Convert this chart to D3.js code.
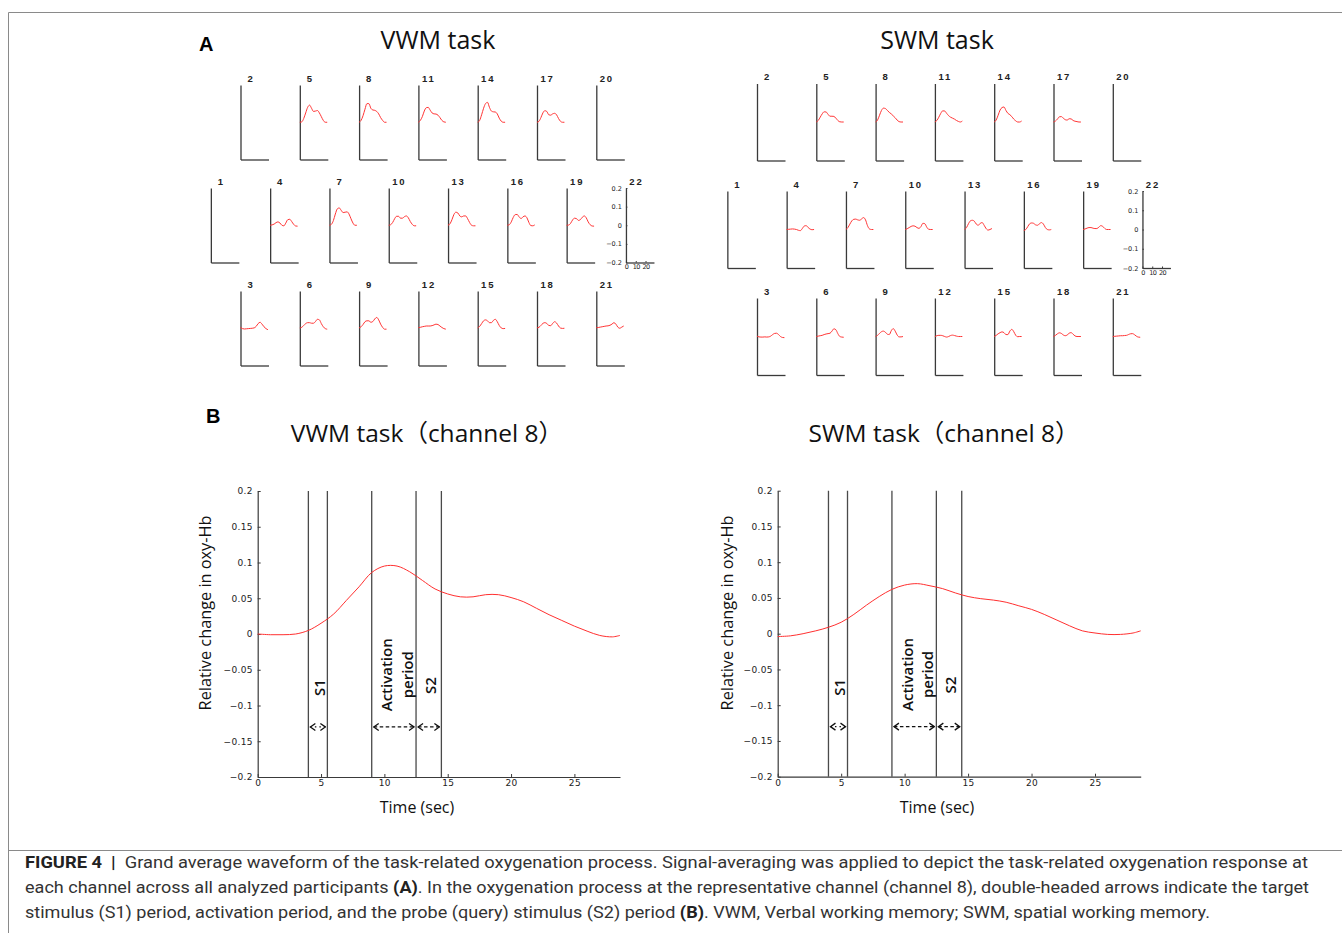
<!DOCTYPE html>
<html>
<head>
<meta charset="utf-8">
<script src="https://cdn.jsdelivr.net/npm/d3@7"></script>
<style>
body { margin: 0; background: #fff; }
svg { display: block; }
</style>
</head>
<body>
<script>
// ---- data ----
var smallTimes = [0, 2, 4, 6, 8, 10, 12, 14, 16, 18, 20, 22, 24, 26, 28];
var rowChannels = [[2, 5, 8, 11, 14, 17, 20], [1, 4, 7, 10, 13, 16, 19, 22], [3, 6, 9, 12, 15, 18, 21]];

// VWM task, waveforms per channel (null = no trace)
var vwmRow1 = [
  null,
  [0, 0.002, 0.02, 0.05, 0.08, 0.092, 0.075, 0.058, 0.06, 0.063, 0.05, 0.03, 0.01, 0, 0],
  [0, 0.01, 0.035, 0.07, 0.1, 0.1, 0.075, 0.066, 0.064, 0.058, 0.045, 0.025, 0.01, 0, 0],
  [0, 0.01, 0.03, 0.06, 0.078, 0.08, 0.065, 0.05, 0.045, 0.044, 0.038, 0.025, 0.01, 0.002, 0],
  [0, 0.01, 0.04, 0.075, 0.1, 0.107, 0.08, 0.06, 0.056, 0.055, 0.045, 0.022, 0.006, 0, 0],
  [0, 0.005, 0.025, 0.05, 0.062, 0.058, 0.04, 0.038, 0.045, 0.048, 0.04, 0.02, 0.005, 0, 0],
  null
];
var vwmRow2 = [
  null,
  [0, 0.002, 0.006, 0.014, 0.018, 0.012, 0, -0.003, 0.012, 0.03, 0.032, 0.02, 0.005, -0.004, -0.005],
  [0, 0.005, 0.025, 0.06, 0.088, 0.093, 0.08, 0.068, 0.07, 0.072, 0.06, 0.035, 0.012, 0, 0],
  [0, 0.003, 0.015, 0.035, 0.048, 0.048, 0.038, 0.038, 0.046, 0.05, 0.04, 0.02, 0.005, -0.003, -0.003],
  [0, 0.008, 0.03, 0.058, 0.07, 0.066, 0.05, 0.045, 0.05, 0.05, 0.035, 0.015, 0, -0.003, -0.003],
  [0, 0.003, 0.018, 0.042, 0.057, 0.058, 0.045, 0.036, 0.045, 0.05, 0.04, 0.015, -0.002, -0.003, 0.002],
  [0, 0.001, 0.01, 0.028, 0.038, 0.036, 0.026, 0.03, 0.043, 0.05, 0.04, 0.018, 0.003, -0.004, -0.005],
  null
];
var vwmRow3 = [
  [0.004, -0.002, -0.004, -0.003, -0.002, -0.001, 0, 0.002, 0.01, 0.025, 0.032, 0.022, 0.008, -0.002, -0.008],
  [0.002, 0.005, 0.015, 0.025, 0.03, 0.03, 0.027, 0.027, 0.036, 0.048, 0.045, 0.025, 0.008, -0.002, -0.005],
  [0.002, 0.008, 0.02, 0.035, 0.04, 0.04, 0.032, 0.036, 0.05, 0.058, 0.045, 0.022, 0.005, -0.005, -0.005],
  [0.003, 0.005, 0.008, 0.01, 0.012, 0.012, 0.012, 0.014, 0.018, 0.022, 0.02, 0.012, 0.004, -0.002, -0.005],
  [0.002, 0.01, 0.025, 0.04, 0.045, 0.04, 0.03, 0.03, 0.042, 0.048, 0.035, 0.015, 0.002, -0.002, -0.001],
  [0.002, 0.005, 0.015, 0.026, 0.03, 0.026, 0.015, 0.014, 0.026, 0.035, 0.028, 0.012, 0.001, -0.001, 0],
  [0.003, 0.004, 0.006, 0.008, 0.01, 0.012, 0.013, 0.016, 0.022, 0.03, 0.022, 0.006, 0, 0.006, 0.012]
];

// SWM task
var swmRow1 = [
  null,
  [0, 0.008, 0.025, 0.042, 0.053, 0.052, 0.04, 0.03, 0.03, 0.029, 0.02, 0.008, 0.001, 0, 0],
  [0, 0.01, 0.035, 0.06, 0.072, 0.07, 0.06, 0.05, 0.042, 0.032, 0.022, 0.01, 0.002, 0, 0],
  [0, 0.008, 0.025, 0.045, 0.058, 0.057, 0.045, 0.033, 0.025, 0.02, 0.015, 0.008, 0.003, 0, 0.005],
  [0, 0.01, 0.035, 0.062, 0.075, 0.078, 0.06, 0.045, 0.038, 0.028, 0.015, 0.006, 0, 0, 0.005],
  [0, 0.005, 0.015, 0.027, 0.028, 0.02, 0.012, 0.01, 0.017, 0.016, 0.008, 0.004, 0.002, 0, 0],
  null
];
var swmRow2 = [
  null,
  [0, 0.001, 0.002, 0.003, 0.002, 0, -0.004, -0.006, 0.005, 0.018, 0.02, 0.01, 0.002, -0.001, 0],
  [0, 0.01, 0.028, 0.045, 0.053, 0.054, 0.05, 0.048, 0.055, 0.062, 0.05, 0.02, 0.003, 0, 0],
  [0, 0.004, 0.01, 0.016, 0.019, 0.017, 0.01, 0.006, 0.015, 0.032, 0.03, 0.012, 0.001, 0, 0],
  [0, 0.01, 0.03, 0.045, 0.048, 0.043, 0.028, 0.022, 0.032, 0.036, 0.022, 0.005, -0.003, 0, 0.005],
  [-0.005, 0, 0.015, 0.03, 0.034, 0.032, 0.024, 0.022, 0.03, 0.036, 0.028, 0.01, 0, -0.002, 0],
  [0, 0.003, 0.007, 0.01, 0.01, 0.007, 0.005, 0.005, 0.012, 0.02, 0.016, 0.006, 0, 0, 0],
  null
];
var swmRow3 = [
  [0.002, -0.002, -0.003, -0.003, -0.002, -0.003, -0.002, 0.002, 0.01, 0.016, 0.017, 0.01, 0, -0.005, -0.006],
  [0, 0.002, 0.004, 0.006, 0.01, 0.013, 0.015, 0.017, 0.028, 0.04, 0.035, 0.015, 0, -0.003, -0.004],
  [0, 0.006, 0.016, 0.025, 0.028, 0.022, 0.012, 0.01, 0.03, 0.041, 0.028, 0.008, -0.002, -0.002, 0],
  [0, 0.004, 0.006, 0.006, 0.004, 0, -0.003, 0, 0.005, 0.007, 0.005, 0.002, 0, 0, 0],
  [0, 0.006, 0.014, 0.02, 0.024, 0.02, 0.01, 0.01, 0.028, 0.037, 0.025, 0.006, -0.001, 0, 0],
  [0, 0.006, 0.014, 0.019, 0.016, 0.008, 0.004, 0.008, 0.017, 0.02, 0.012, 0.003, 0, 0, 0],
  [0, 0.001, 0.002, 0.003, 0.004, 0.004, 0.005, 0.006, 0.01, 0.014, 0.015, 0.01, 0.002, -0.003, -0.004]
];

// channel 8 grand averages (panel B)
var bigTimes = [0, 1, 2, 3, 4, 5, 6, 7, 8, 9, 10, 11, 12, 13, 14, 15, 16, 17, 18, 19, 20, 21, 22, 23, 24, 25, 26, 27, 28, 28.6];
var vwmCh8 = [0, -0.001, -0.001, 0, 0.005, 0.015, 0.028, 0.047, 0.066, 0.086, 0.095, 0.095, 0.087, 0.075, 0.063, 0.056, 0.052, 0.052, 0.055, 0.055, 0.051, 0.045, 0.036, 0.027, 0.019, 0.011, 0.004, -0.002, -0.004, -0.002];
var swmCh8 = [-0.004, -0.003, 0, 0.004, 0.009, 0.016, 0.027, 0.04, 0.052, 0.062, 0.068, 0.07, 0.067, 0.063, 0.057, 0.052, 0.049, 0.047, 0.044, 0.039, 0.034, 0.027, 0.019, 0.011, 0.004, 0.001, -0.001, -0.001, 0.001, 0.004];
var eventTimes = [4, 5.5, 9, 12.5, 14.5];
var periodSpans = [[4, 5.5, false], [9, 12.5, true], [12.5, 14.5, true]];
var arrowLevel = -0.13;
var periodLabels = [
  { text: "S1", t: 4.8, v: -0.075 },
  { text: "Activation", t: 10.15, v: -0.057 },
  { text: "period", t: 11.8, v: -0.057 },
  { text: "S2", t: 13.6, v: -0.072 }
];
var yTicksB = [-0.2, -0.15, -0.1, -0.05, 0, 0.05, 0.1, 0.15, 0.2];
var xTicksB = [0, 5, 10, 15, 20, 25];
var yTicksA = [-0.2, -0.1, 0, 0.1, 0.2];
var xTicksA = [0, 10, 20];

var captionLines = [
  [["FIGURE 4 ", true], [" |  ", true], ["Grand average waveform of the task-related oxygenation process. Signal-averaging was applied to depict the task-related oxygenation response at", false]],
  [["each channel across all analyzed participants ", false], ["(A)", true], [". In the oxygenation process at the representative channel (channel 8), double-headed arrows indicate the target", false]],
  [["stimulus (S1) period, activation period, and the probe (query) stimulus (S2) period ", false], ["(B)", true], [". VWM, Verbal working memory; SWM, spatial working memory.", false]]
];

// ---- drawing ----
var W = 1342, H = 933;
var svg = d3.select("body").append("svg").attr("width", W).attr("height", H);
var fmt = d3.format("~g");
var sans = "'Open Sans', 'Noto Sans', 'Noto Sans CJK SC', sans-serif";

// frame
svg.append("path")
  .attr("d", "M8.5,933 V12.5 H1342 M8.5,850.5 H1342")
  .attr("fill", "none").attr("stroke", "#8a8a8a").attr("stroke-width", 1);

svg.append("text").attr("x", 199).attr("y", 50.5).text("A")
  .style("font-family", "'Liberation Sans', Arial, sans-serif").style("font-weight", "bold").style("font-size", "20px");
svg.append("text").attr("x", 206).attr("y", 423).text("B")
  .style("font-family", "'Liberation Sans', Arial, sans-serif").style("font-weight", "bold").style("font-size", "20px");

// panel A: small multiples
var layoutsA = [
  { title: "VWM task", titleX: 438, x0: 240.5, tops: [85, 188, 291], h: 74.5, rows: [vwmRow1, vwmRow2, vwmRow3] },
  { title: "SWM task", titleX: 937, x0: 757, tops: [83.5, 191, 298], h: 77, rows: [swmRow1, swmRow2, swmRow3] }
];
var colStep = 59.3, panelW = 28;

layoutsA.forEach(function(L) {
  svg.append("text").attr("x", L.titleX).attr("y", 48.5).attr("text-anchor", "middle")
    .text(L.title).style("font-family", sans).style("font-size", "25px").style("fill", "#111");

  rowChannels.forEach(function(chs, r) {
    chs.forEach(function(ch, i) {
      var x0 = L.x0 + i * colStep - (r == 1 ? colStep / 2 : 0);
      var top = L.tops[r];
      var x = d3.scaleLinear().domain([0, 28.6]).range([x0, x0 + panelW]);
      var y = d3.scaleLinear().domain([-0.2, 0.2]).range([top + L.h, top]);
      var g = svg.append("g");
      var withTicks = (ch == 22);

      var ay = d3.axisLeft(y).tickSizeOuter(0);
      var ax = d3.axisBottom(x).tickSizeOuter(0);
      if (withTicks) {
        ay.tickValues(yTicksA).tickSizeInner(-1.5).tickPadding(4).tickFormat(fmt);
        ax.tickValues(xTicksA).tickSizeInner(-1.5).tickPadding(2).tickFormat(fmt);
      } else {
        ay.tickValues([]);
        ax.tickValues([]);
      }
      var gy = g.append("g").attr("transform", "translate(" + x0 + ",0)").call(ay);
      var gx = g.append("g").attr("transform", "translate(0," + (top + L.h) + ")").call(ax);
      g.selectAll(".domain").attr("stroke", "#3a3a3a").attr("stroke-width", 1.3);
      g.selectAll(".tick line").attr("stroke", "#3a3a3a");
      g.selectAll(".tick text").style("font-family", "'DejaVu Sans', sans-serif").style("font-size", "6.5px").attr("fill", "#222");
      gx.selectAll(".tick text").style("letter-spacing", "-0.6px");

      g.append("text").attr("x", x0 + 10.5).attr("y", top - 3.5).attr("text-anchor", "middle")
        .text(ch).style("font-family", "'Liberation Sans', Arial, sans-serif").style("font-weight", "bold")
        .style("font-size", "9.5px").style("letter-spacing", "1.8px").attr("fill", "#222");

      var wave = L.rows[r][i];
      if (wave) {
        var line = d3.line().x(function(d, k) { return x(smallTimes[k]); }).y(function(d) { return y(d); })
          .curve(d3.curveMonotoneX);
        g.append("path").attr("d", line(wave)).attr("fill", "none")
          .attr("stroke", "#ff3535").attr("stroke-width", 1);
      }
    });
  });
});

// panel B: channel 8
var defs = svg.append("defs");
defs.append("marker").attr("id", "chev").attr("viewBox", "-7 -5 8 10")
  .attr("markerWidth", 8).attr("markerHeight", 10).attr("refX", 0).attr("refY", 0)
  .attr("markerUnits", "userSpaceOnUse").attr("orient", "auto-start-reverse")
  .append("path").attr("d", "M-5,-3.5 L0,0 L-5,3.5").attr("fill", "none")
  .attr("stroke", "#111").attr("stroke-width", 1.3);

var layoutsB = [
  { title: "VWM task（channel 8）", titleX: 427, xr: [257.7, 620], yr: [777, 491], values: vwmCh8, ylabX: 205, xlabX: 417 },
  { title: "SWM task（channel 8）", titleX: 944, xr: [777.7, 1140.7], yr: [776.7, 490.7], values: swmCh8, ylabX: 727, xlabX: 937 }
];

layoutsB.forEach(function(L) {
  var x = d3.scaleLinear().domain([0, 28.6]).range(L.xr);
  var y = d3.scaleLinear().domain([-0.2, 0.2]).range(L.yr);
  var g = svg.append("g");

  g.append("text").attr("x", L.titleX).attr("y", 442).attr("text-anchor", "middle")
    .text(L.title).style("font-family", sans).style("font-size", "24.5px").style("fill", "#111");

  var gy = g.append("g").attr("transform", "translate(" + L.xr[0] + ",0)")
    .call(d3.axisLeft(y).tickValues(yTicksB).tickSizeInner(-3).tickSizeOuter(0).tickPadding(5).tickFormat(fmt));
  var gx = g.append("g").attr("transform", "translate(0," + L.yr[0] + ")")
    .call(d3.axisBottom(x).tickValues(xTicksB).tickSizeInner(-3).tickSizeOuter(0).tickPadding(3).tickFormat(fmt));
  g.selectAll(".domain").attr("stroke", "#3a3a3a").attr("stroke-width", 1.2);
  g.selectAll(".tick line").attr("stroke", "#3a3a3a");
  g.selectAll(".tick text").style("font-family", "'DejaVu Sans', sans-serif").style("font-size", "9px")
    .style("letter-spacing", "0.3px").attr("fill", "#222");

  g.selectAll(".event").data(eventTimes).enter().append("line")
    .attr("x1", function(d) { return x(d); }).attr("x2", function(d) { return x(d); })
    .attr("y1", y(0.2)).attr("y2", y(-0.2))
    .attr("stroke", "#4a4a4a").attr("stroke-width", 1.3);

  var line = d3.line().x(function(d, k) { return x(bigTimes[k]); }).y(function(d) { return y(d); })
    .curve(d3.curveCatmullRom);
  g.append("path").attr("d", line(L.values)).attr("fill", "none")
    .attr("stroke", "#ff3030").attr("stroke-width", 1);

  g.selectAll(".span").data(periodSpans).enter().append("line")
    .attr("x1", function(d) { return x(d[0]) + 2; }).attr("x2", function(d) { return x(d[1]) - 2; })
    .attr("y1", y(arrowLevel)).attr("y2", y(arrowLevel))
    .attr("stroke", "#111").attr("stroke-width", 1.3)
    .attr("stroke-dasharray", function(d) { return d[2] ? "3.5,2.5" : "1.5,3"; })
    .attr("marker-start", "url(#chev)").attr("marker-end", "url(#chev)");

  g.selectAll(".plabel").data(periodLabels).enter().append("text")
    .attr("transform", function(d) { return "translate(" + x(d.t) + "," + y(d.v) + ") rotate(-90)"; })
    .attr("text-anchor", "middle").attr("dominant-baseline", "central")
    .text(function(d) { return d.text; })
    .style("font-family", sans).style("font-weight", "600").style("font-size", "15px").attr("fill", "#111");

  g.append("text").attr("transform", "translate(" + L.ylabX + ",613) rotate(-90)")
    .attr("text-anchor", "middle").attr("dominant-baseline", "central")
    .text("Relative change in oxy-Hb").style("font-family", sans).style("font-size", "16.3px").attr("fill", "#111");
  g.append("text").attr("x", L.xlabX).attr("y", 813).attr("text-anchor", "middle")
    .text("Time (sec)").style("font-family", sans).style("font-size", "16px").attr("fill", "#111");
});

// caption
var capWidths = [1283, 1284, 1185];
captionLines.forEach(function(parts, i) {
  var t = svg.append("text").attr("x", 25).attr("y", 868 + i * 25)
    .attr("textLength", capWidths[i]).attr("lengthAdjust", "spacingAndGlyphs")
    .style("font-family", "Roboto, sans-serif").style("font-size", "16.5px").attr("fill", "#333")
    .style("white-space", "pre");
  parts.forEach(function(p) {
    t.append("tspan").text(p[0]).style("font-weight", p[1] ? "bold" : "normal")
      .attr("fill", p[1] ? "#222" : "#333");
  });
});
</script>
</body>
</html>
